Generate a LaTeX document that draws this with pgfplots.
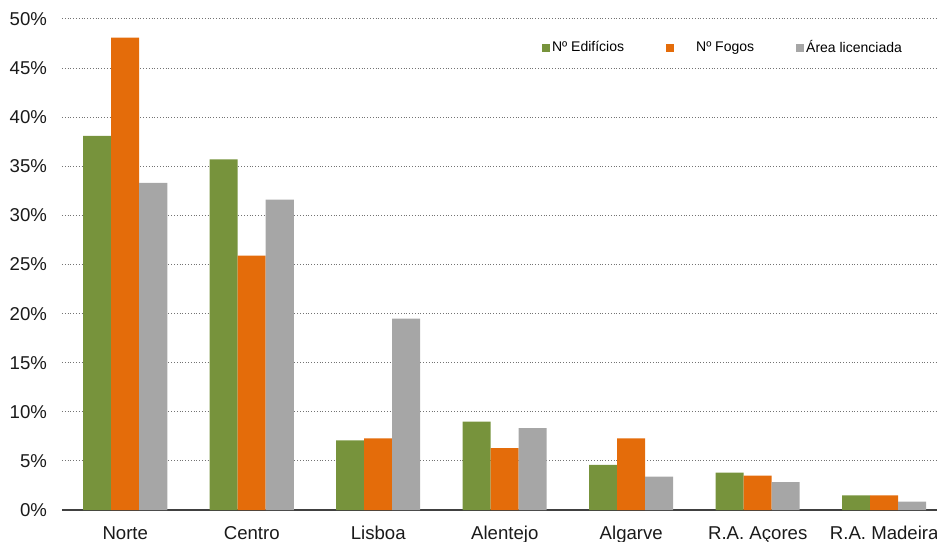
\documentclass[border=0pt]{standalone}
\usepackage{pgfplots}
\pgfplotsset{compat=1.18}
\usepackage{fontspec}
\setmainfont{Liberation Sans}
\definecolor{cgreen}{HTML}{77933C}
\definecolor{corange}{HTML}{E46C0A}
\definecolor{cgray}{HTML}{A6A6A6}
\definecolor{ctext}{HTML}{1A1A1A}
\begin{document}
\begin{tikzpicture}
\begin{axis}[
  scale only axis,
  width=442.75pt, height=245.5pt,
  ybar=0pt, bar width=14pt,
  xmin=-0.5, xmax=6.5,
  ymin=0, ymax=50,
  ytick={0,5,...,50},
  xtick=data,
  xticklabels={Norte,Centro,Lisboa,Alentejo,Algarve,R.A. Açores,R.A. Madeira},
  /pgf/number format/assume math mode=true,
  yticklabel={\pgfmathprintnumber{\tick}\%},
  ticklabel style={font=\fontsize{9.3pt}{11pt}\selectfont, text=ctext},
  yticklabel style={xshift=-4pt},
  xticklabel style={yshift=-4pt, text height=7pt, text depth=2pt},
  major tick length=0pt,
  axis x line*=bottom,
  axis y line*=left,
  y axis line style={draw=none},
  x axis line style={draw=black!75, line width=0.7pt, -},
  ymajorgrids,
  major grid style={densely dotted, black!55, line width=0.5pt},
  legend style={draw=none, fill=none, at={(rel axis cs:0.958,0.969)}, anchor=north east,
    font=\fontsize{7pt}{8.5pt}\selectfont, legend columns=3,
    nodes={inner sep=1pt},
    /tikz/every even column/.append style={column sep=20pt}},
  legend image code/.code={\fill[#1] (0pt,-2pt) rectangle (4pt,2pt);},
  every axis plot/.append style={draw=none},
]
\addplot[fill=cgreen] coordinates {(0,38.1) (1,35.7) (2,7.1) (3,9.0) (4,4.6) (5,3.8) (6,1.5)};
\addplot[fill=corange, legend image code/.code={\fill[corange] (0pt,-2pt) rectangle (4pt,2pt); \path (14pt,0);}] coordinates {(0,48.1) (1,25.9) (2,7.3) (3,6.3) (4,7.3) (5,3.5) (6,1.5)};
\addplot[fill=cgray] coordinates {(0,33.3) (1,31.6) (2,19.5) (3,8.35) (4,3.4) (5,2.85) (6,0.85)};
\legend{Nº Edifícios,Nº Fogos,Área licenciada}
\coordinate (sw) at (rel axis cs:0,0);
\end{axis}
\pgfresetboundingbox
\path[use as bounding box] ([shift={(-31pt,-15.5pt)}]sw) rectangle ++(468.5pt,270.5pt);
\end{tikzpicture}
\end{document}
